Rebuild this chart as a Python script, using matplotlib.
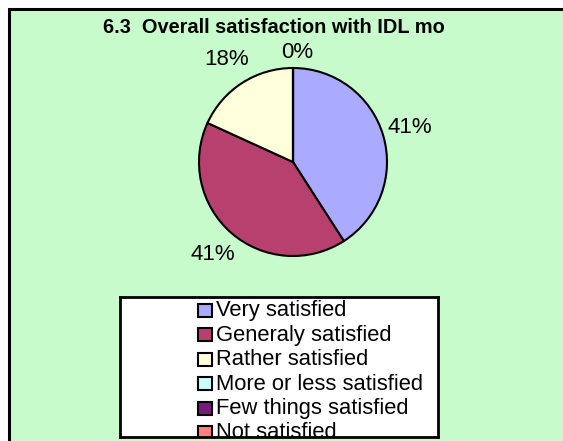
import matplotlib
matplotlib.use("Agg")
import matplotlib.pyplot as plt
from matplotlib.patches import Rectangle
import numpy as np

plt.rcParams['font.family'] = ['Liberation Sans', 'DejaVu Sans']

# Survey responses
categories = ["Very satisfied", "Generaly satisfied", "Rather satisfied",
              "More or less satisfied", "Few things satisfied", "Not satisfied"]
counts = [9, 9, 4, 0, 0, 0]
colors = ["#AAAAFF", "#B8406F", "#FFFFDC", "#CCFFFF", "#7A1A78", "#FF8080"]
title = "6.3  Overall satisfaction with IDL mo"

W, H = 563, 441
fig = plt.figure(figsize=(W / 100, H / 100), dpi=100)
fig.patch.set_facecolor("white")

# Background panel in pixel coordinates
bg = fig.add_axes([0, 0, 1, 1])
bg.set_xlim(0, W)
bg.set_ylim(H, 0)
bg.axis("off")
bg.add_patch(Rectangle((8.5, 8.5), 700, 600, facecolor="#C8FBCC",
                       edgecolor="black", linewidth=2.2))
bg.text(103, 33, title, fontsize=14.4, fontweight="bold", ha="left",
        va="baseline", color="black")

# Pie
cx, cy, r = 293, 162, 94
pax = fig.add_axes([(cx - r) / W, (H - cy - r) / H, 2 * r / W, 2 * r / H])
wedges, _, autotexts = pax.pie(
    counts, colors=colors, startangle=90, counterclock=False,
    autopct="%1.0f%%", pctdistance=1.3,
    wedgeprops=dict(edgecolor="black", linewidth=1.5),
    textprops=dict(fontsize=16, color="black"))
pax.set_xlim(-1, 1)
pax.set_ylim(-1, 1)
pax.set_aspect("equal")
# zero-size slices share one label at the top
first_zero = True
for w, t, v in zip(wedges, autotexts, counts):
    if v == 0:
        ang = np.deg2rad(w.theta1)
        t.set_position((1.17 * np.cos(ang) + 0.04, 1.17 * np.sin(ang)))
        t.set_visible(first_zero)
        first_zero = False

# Legend box (content clipped to the frame)
x0, x1, y0, y1 = 120, 438, 297, 437
lax = fig.add_axes([x0 / W, (H - y1) / H, (x1 - x0) / W, (y1 - y0) / H])
lax.set_xlim(x0, x1)
lax.set_ylim(y1, y0)
lax.set_xticks([])
lax.set_yticks([])
lax.set_facecolor("white")
for s in lax.spines.values():
    s.set_linewidth(2)
    s.set_color("black")
for i, (lab, col) in enumerate(zip(categories, colors)):
    base = 316 + i * 24.5
    lax.add_patch(Rectangle((198, base - 12.5), 14.5, 13, facecolor=col,
                            edgecolor="black", linewidth=1.5, clip_on=True))
    lax.text(216.5, base, lab, fontsize=15.8, ha="left", va="baseline",
             color="black", clip_on=True)

fig.savefig("out.png", dpi=100)
